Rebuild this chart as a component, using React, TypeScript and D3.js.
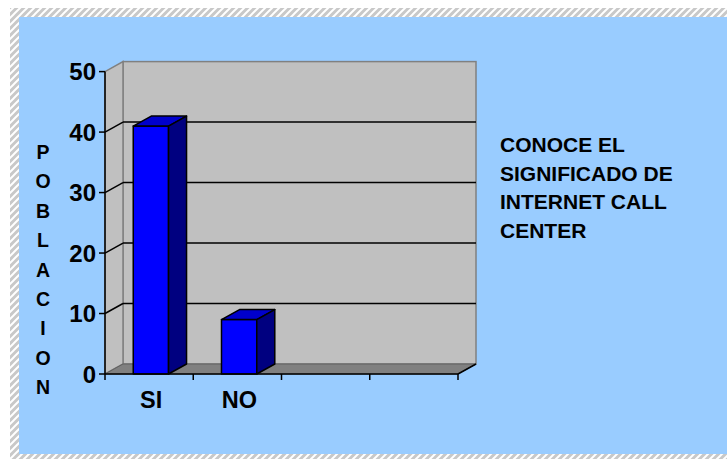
import React from "react";
import * as d3 from "d3";

// Survey answers: "Conoce el significado de Internet Call Center"
const categories: string[] = ["SI", "NO", "", ""];
const values: (number | null)[] = [41, 9, null, null];
const yTicks: number[] = [0, 10, 20, 30, 40, 50];
const axisTitle = "POBLACION";
const legendLines: string[] = ["CONOCE EL", "SIGNIFICADO DE", "INTERNET CALL", "CENTER"];

const W = 727;
const H = 459;
const FONT = "'Liberation Sans', Arial, Helvetica, sans-serif";

// 3D depth offset of the plot box
const DX = 18;
const DY = -10;

export default function App() {
  const x0 = 105;
  const x1 = 458;
  const y = d3.scaleLinear().domain([0, 50]).range([374, 71.6]);
  const x = d3
    .scaleBand<number>()
    .domain(d3.range(categories.length))
    .range([x0, x1])
    .padding(0);
  const bw = x.bandwidth();
  const barW = bw * 0.4;
  const barOff = bw * 0.32;

  const yTop = y(50);
  const yBase = y(0);

  const pts = (p: [number, number][]) => p.map((d) => d.join(",")).join(" ");

  return (
    <svg
      width={W}
      height={H}
      style={{ position: "absolute", left: 0, top: 0, display: "block" }}
      fontFamily={FONT}
    >
      <defs>
        <pattern id="hatch" width="7" height="7" patternUnits="userSpaceOnUse">
          <rect width="7" height="7" fill="#c8c8c8" />
          <path d="M-1,8 L8,-1 M-1,1 L1,-1 M6,8 L8,6" stroke="#ffffff" strokeWidth="2" />
        </pattern>
      </defs>

      {/* page and hatched frame */}
      <rect x={0} y={0} width={W} height={H} fill="#ffffff" />
      <rect x={10} y={8} width={W - 10} height={H - 8} fill="url(#hatch)" />
      <rect x={19} y={17} width={W - 19} height={454 - 17} fill="#99ccff" />

      {/* back wall */}
      <rect
        x={x0 + DX}
        y={yTop + DY}
        width={x1 - x0}
        height={yBase - yTop}
        fill="#c0c0c0"
        stroke="#808080"
        strokeWidth={1.5}
      />
      {/* left side wall */}
      <polygon
        points={pts([
          [x0, yBase],
          [x0, yTop],
          [x0 + DX, yTop + DY],
          [x0 + DX, yBase + DY],
        ])}
        fill="#c0c0c0"
        stroke="#808080"
        strokeWidth={1.5}
      />
      {/* floor */}
      <polygon
        points={pts([
          [x0, yBase],
          [x0 + DX, yBase + DY],
          [x1 + DX, yBase + DY],
          [x1, yBase],
        ])}
        fill="#808080"
        stroke="#606060"
        strokeWidth={1}
      />

      {/* gridlines on the side and back walls */}
      {yTicks
        .filter((t) => t > 0 && t < 50)
        .map((t) => (
          <g key={"g" + t} stroke="#000000" strokeWidth={1.5}>
            <line x1={x0} y1={y(t)} x2={x0 + DX} y2={y(t) + DY} />
            <line x1={x0 + DX} y1={y(t) + DY} x2={x1 + DX} y2={y(t) + DY} />
          </g>
        ))}

      {/* bars */}
      {values.map((v, i) => {
        if (v == null) return null;
        const bx = (x(i) as number) + barOff;
        const by = y(v);
        return (
          <g key={"b" + i} stroke="#000000" strokeWidth={1.5} strokeLinejoin="round">
            <rect x={bx} y={by} width={barW} height={yBase - by} fill="#0000ff" />
            <polygon
              points={pts([
                [bx, by],
                [bx + DX, by + DY],
                [bx + barW + DX, by + DY],
                [bx + barW, by],
              ])}
              fill="#0000cc"
            />
            <polygon
              points={pts([
                [bx + barW, by],
                [bx + barW + DX, by + DY],
                [bx + barW + DX, yBase + DY],
                [bx + barW, yBase],
              ])}
              fill="#000080"
            />
          </g>
        );
      })}

      {/* axes */}
      <line x1={x0} y1={yTop} x2={x0} y2={yBase} stroke="#000" strokeWidth={1.5} />
      <line x1={x0} y1={yBase} x2={x1} y2={yBase} stroke="#000" strokeWidth={1.5} />
      <line x1={x1} y1={yBase} x2={x1 + DX} y2={yBase + DY} stroke="#000" strokeWidth={1.5} />
      {yTicks.map((t) => (
        <g key={"t" + t}>
          <line x1={x0 - 6} y1={y(t)} x2={x0} y2={y(t)} stroke="#000" strokeWidth={1.5} />
          <text
            x={x0 - 9}
            y={y(t) + 8.5}
            textAnchor="end"
            fontSize={24}
            fontWeight="bold"
            fill="#000"
          >
            {t}
          </text>
        </g>
      ))}
      {d3.range(categories.length + 1).map((i) => {
        const xx = i < categories.length ? (x(i) as number) : x1;
        return <line key={"c" + i} x1={xx} y1={yBase} x2={xx} y2={yBase + 6} stroke="#000" strokeWidth={1.5} />;
      })}
      {categories.map((c, i) => (
        <text
          key={"l" + i}
          x={(x(i) as number) + bw / 2 + 2}
          y={408}
          textAnchor="middle"
          fontSize={23.5}
          fontWeight="bold"
          fill="#000"
        >
          {c}
        </text>
      ))}

      {/* vertical axis title, stacked letters */}
      {axisTitle.split("").map((ch, i) => (
        <text
          key={"a" + i}
          x={43}
          y={159 + i * 29.4}
          textAnchor="middle"
          fontSize={19.5}
          fontWeight="bold"
          fill="#000"
        >
          {ch}
        </text>
      ))}

      {/* legend text */}
      {legendLines.map((s, i) => (
        <text key={"s" + i} x={500} y={152 + i * 28.7} fontSize={21} fontWeight="bold" fill="#000">
          {s}
        </text>
      ))}
    </svg>
  );
}
